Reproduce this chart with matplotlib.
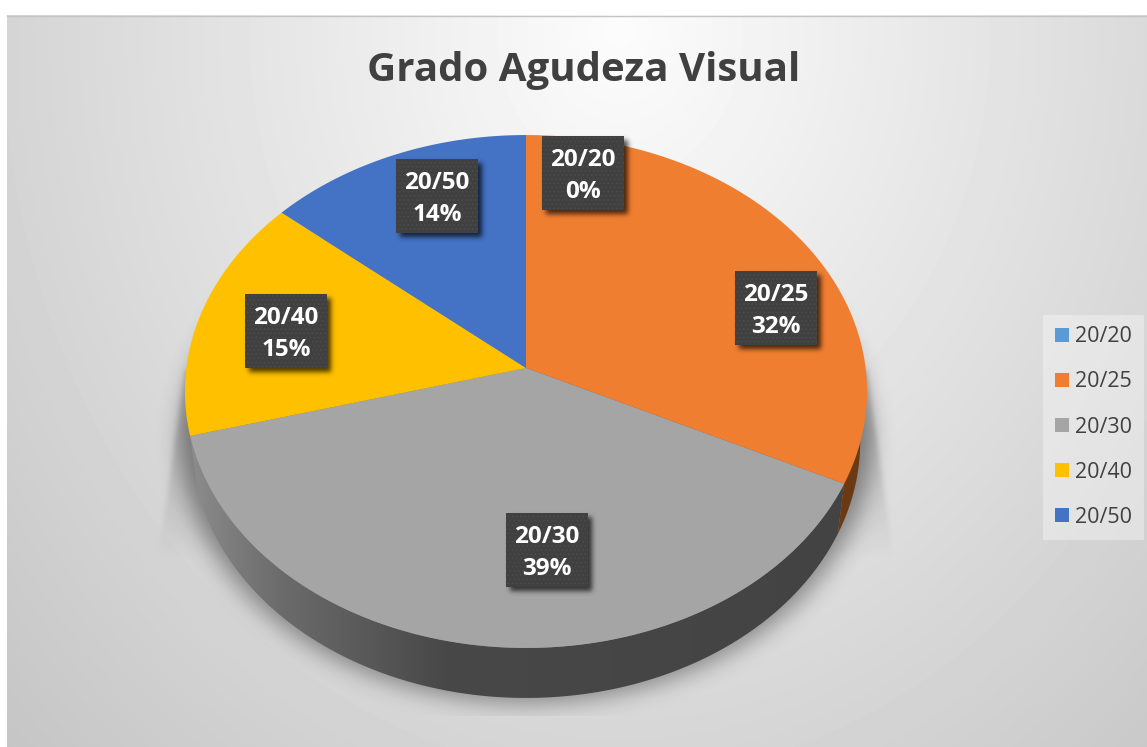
import numpy as np
import matplotlib
matplotlib.use("Agg")
import matplotlib.pyplot as plt
from matplotlib.colors import LinearSegmentedColormap
from matplotlib.patches import Patch, Polygon, Rectangle

plt.rcParams['font.family'] = ['Open Sans', 'DejaVu Sans']
plt.rcParams['hatch.linewidth'] = 0.6

title = "Grado Agudeza Visual"
categories = ["20/20", "20/25", "20/30", "20/40", "20/50"]
percents = [0, 32.2, 38.6, 15.4, 13.8]
colors = ["#5B9BD5", "#F07E30", "#A5A5A5", "#FFC000", "#4472C4"]

# label box centres, in pixels
label_x = [583, 776, 547, 286, 437]
label_y = [173, 308, 550, 331, 196]

W, H = 1147, 747
CX, CY = 526, 368       # where the slices meet
A, B, K = 339.6, 254.3, 0.0916   # tilted circle -> picture
DEPTH, SHRINK = 50, 0.98


def top_face(frac):
    # frac runs clockwise from 12 o'clock, 1 = full turn
    t = 2 * np.pi * np.asarray(frac, dtype=float)
    w = 1 + K * np.cos(t)
    return CX + A * np.sin(t) / w, CY - B * np.cos(t) / w


def low_face(frac):
    x, y = top_face(frac)
    return CX + SHRINK * (x - CX), y + DEPTH


def blur(a, sigma):
    fy = np.fft.fftfreq(a.shape[0])[:, None]
    fx = np.fft.rfftfreq(a.shape[1])[None, :]
    g = np.exp(-2 * (np.pi * sigma) ** 2 * (fx ** 2 + fy ** 2))
    return np.fft.irfft2(np.fft.rfft2(a) * g, s=a.shape)


def black_layer(alpha, zorder):
    rgba = np.zeros(alpha.shape + (4,))
    rgba[..., 3] = np.clip(alpha, 0, 1)
    ax.imshow(rgba, extent=(0, W, H, 0), zorder=zorder, aspect='auto',
              interpolation='bilinear')


fig = plt.figure(figsize=(W / 100, H / 100), dpi=100, facecolor='white')
ax = fig.add_axes([0, 0, 1, 1])
ax.set_xlim(0, W)
ax.set_ylim(H, 0)
ax.axis('off')

# chart area background
yy, xx = np.mgrid[15:H, 7:W] + 0.5
d = np.sqrt(((xx - 620) / 620) ** 2 + ((yy - 30) / 750) ** 2)
ax.imshow(np.clip(252 - 40 * d, 0, 255), extent=(7, W, H, 15), cmap='gray',
          vmin=0, vmax=255, aspect='auto', zorder=0)
ax.plot([7, W], [15.5, 15.5], color='#c4c4c4', lw=1, zorder=1)

# shadow under the pie
py, px = np.mgrid[0:H, 0:W] + 0.5
fan = (np.abs(px - CX) < 341 + (py - 370) * 24 / 170) & (py > 370)
fan_a = blur(fan * np.clip((560 - py) / 130, 0, 1) * 0.17, 2.5)
ell = ((px - CX) / 345) ** 2 + ((py - 441) / 262) ** 2 < 1
ell_a = blur(ell * 0.38, 11)
sh = 1 - (1 - fan_a) * (1 - ell_a)
sh[py > 716] = 0
black_layer(sh, 2)

# side of the pie
cum = np.cumsum([0] + percents) / 100.0
f_a, f_b = cum[2], cum[3]   # the grey slice is the one that shows in front
arc = np.linspace(f_a, f_b, 200)
tx, ty = top_face(arc)
lx, ly = low_face(arc)
side = Polygon(np.r_[np.c_[tx, ty], np.c_[lx, ly][::-1]], closed=True,
               transform=ax.transData, fc='none', ec='none')
ax.add_patch(side)
side_cmap = LinearSegmentedColormap.from_list(
    'side', [(0, '#8c8c8c'), (0.13, '#6c6c6c'), (0.38, '#484848'), (1, '#434343')])
im = ax.imshow(np.linspace(0, 1, 512)[None, :], extent=(190, 860, H, 0),
               cmap=side_cmap, aspect='auto', zorder=3)
im.set_clip_path(side)

arc = np.linspace(cum[1], cum[2], 150)
lx, ly = low_face(arc)
tx, ty = top_face(f_a)
ax.fill(np.r_[CX, lx, tx], np.r_[CY, ly, ty], color='#6b3a12', lw=0, zorder=3)

# top of the pie
for i, p in enumerate(percents):
    if p == 0:
        continue
    arc = np.linspace(cum[i], cum[i + 1], 300)
    x, y = top_face(arc)
    ax.fill(np.r_[CX, x], np.r_[CY, y], color=colors[i], lw=0, zorder=4)

# data labels
BW, BH = 82, 74
box_sh = np.zeros((H, W))
for lxc, lyc in zip(label_x, label_y):
    box_sh[(np.abs(px - lxc - 4) < BW / 2) & (np.abs(py - lyc - 4) < BH / 2)] = 0.7
black_layer(blur(box_sh, 2.5), 5)

for cat, p, lxc, lyc in zip(categories, percents, label_x, label_y):
    ax.add_patch(Rectangle((lxc - BW / 2, lyc - BH / 2), BW, BH, fc='#404040',
                           ec='#4c4c4c', hatch='....', lw=0, zorder=6))
    ax.text(lxc, lyc + 3, "%s\n%.0f%%" % (cat, p), color='white', fontsize=17.5,
            fontweight='bold', ha='center', va='center', linespacing=1.42, zorder=7)

ax.text(584, 71, title, color='#404040', fontsize=29, fontweight='bold',
        ha='center', va='center', zorder=7)

# legend
handles = [Patch(fc=c, ec='none', label=n) for c, n in zip(colors, categories)]
leg = ax.legend(handles=handles, loc='upper left',
                bbox_to_anchor=(1043 / W, 1 - 314.5 / H), borderaxespad=0,
                fontsize=15.5, handlelength=0.65, handleheight=0.65,
                handletextpad=0.3, labelspacing=1.12, borderpad=0.55,
                fancybox=False, framealpha=0.35, facecolor='white',
                edgecolor='none', labelcolor='#404040')
leg.set_zorder(7)

fig.savefig("out.png", dpi=100)
